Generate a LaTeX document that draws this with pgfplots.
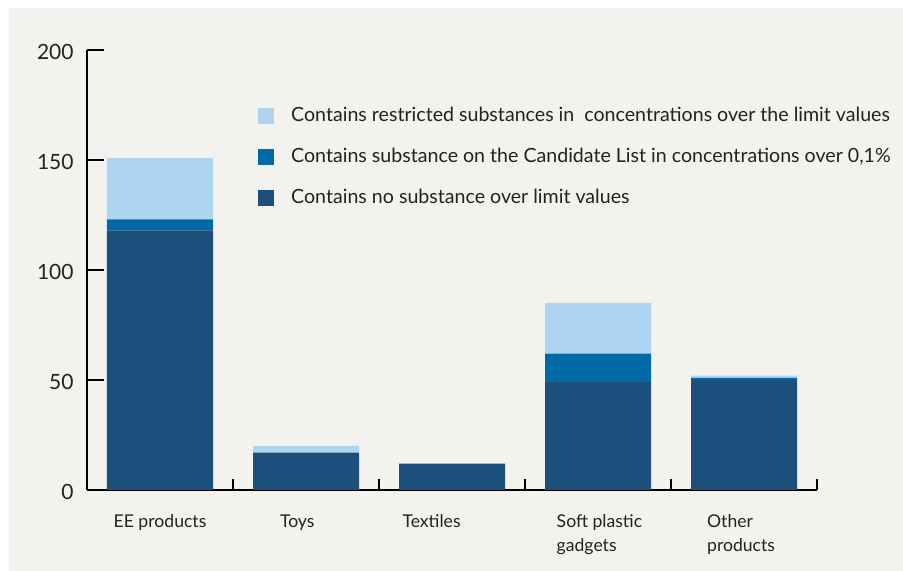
\documentclass[border=0pt]{standalone}
\usepackage{pgfplots}
\pgfplotsset{compat=1.18}
\usepackage{fontspec}
\setmainfont{Lato}
\definecolor{bg}{HTML}{F4F2EE}
\definecolor{lightb}{HTML}{AED6F0}
\definecolor{midb}{HTML}{006AA6}
\definecolor{darkb}{HTML}{1C4F7B}
\definecolor{txt}{HTML}{222222}
\begin{document}
\begin{tikzpicture}
\path[use as bounding box] (-43.5pt,-40.5pt) rectangle (408pt,245pt);
\fill[bg] (-39pt,-40.5pt) rectangle (408pt,241pt);
\begin{axis}[
  at={(0pt,0pt)}, anchor=south west,
  scale only axis, width=365pt, height=220pt,
  xmin=-0.5, xmax=4.5, ymin=0, ymax=200,
  axis x line=bottom, axis y line=left,
  axis line style={-, line width=0.7pt, black},
  ybar stacked, bar width=53pt,
  ytick={0,50,100,150,200},
  xtick={0,0.94,1.86,3.01,3.98},
  xticklabels={EE products, Toys, Textiles, {Soft plastic\\gadgets}, {Other\\products}},
  minor xtick={0.5,1.5,2.5,3.5,4.5},
  tick align=inside,
  major tick length=8.5pt, minor tick length=5.5pt,
  major x tick style={draw=none},
  every tick/.style={black, line width=0.7pt},
  minor x tick style={black, line width=0.7pt},
  /pgf/number format/assume math mode=true,
  yticklabel style={font=\fontsize{10.5}{12}\selectfont, text=txt, inner sep=0pt, anchor=east, xshift=-6.5pt, yshift=-0.8pt},
  xticklabel style={font=\fontsize{8.8}{12}\selectfont, text=txt, align=left, inner sep=0pt, anchor=north, yshift=-12pt},
  reverse legend,
  legend image code/.code={\fill[#1] (0pt,-4pt) rectangle (8pt,4pt);},
  legend style={at={(0.234,0.871)}, anchor=north west, draw=none, fill=none, inner sep=0pt,
    font=\fontsize{9.8}{11}\selectfont, text=txt, row sep=11.3pt,
    nodes={inner sep=0pt, anchor=west, text height=7pt, text depth=2.2pt},
    /tikz/every odd column/.append style={column sep=8.5pt}},
]
\addplot[fill=darkb, draw=none] coordinates {(0,118) (1,17) (2,12) (3,49) (4,50)};
\addplot[fill=midb, draw=none] coordinates {(0,5) (1,0) (2,0) (3,13) (4,1)};
\addplot[fill=lightb, draw=none] coordinates {(0,28) (1,3) (2,0) (3,23) (4,1)};
\legend{Contains no substance over limit values,
  Contains substance on the Candidate List in concentrations over 0{,}1\%,
  Contains restricted substances in\ \ concentrations over the limit values}
\end{axis}
\end{tikzpicture}
\end{document}
